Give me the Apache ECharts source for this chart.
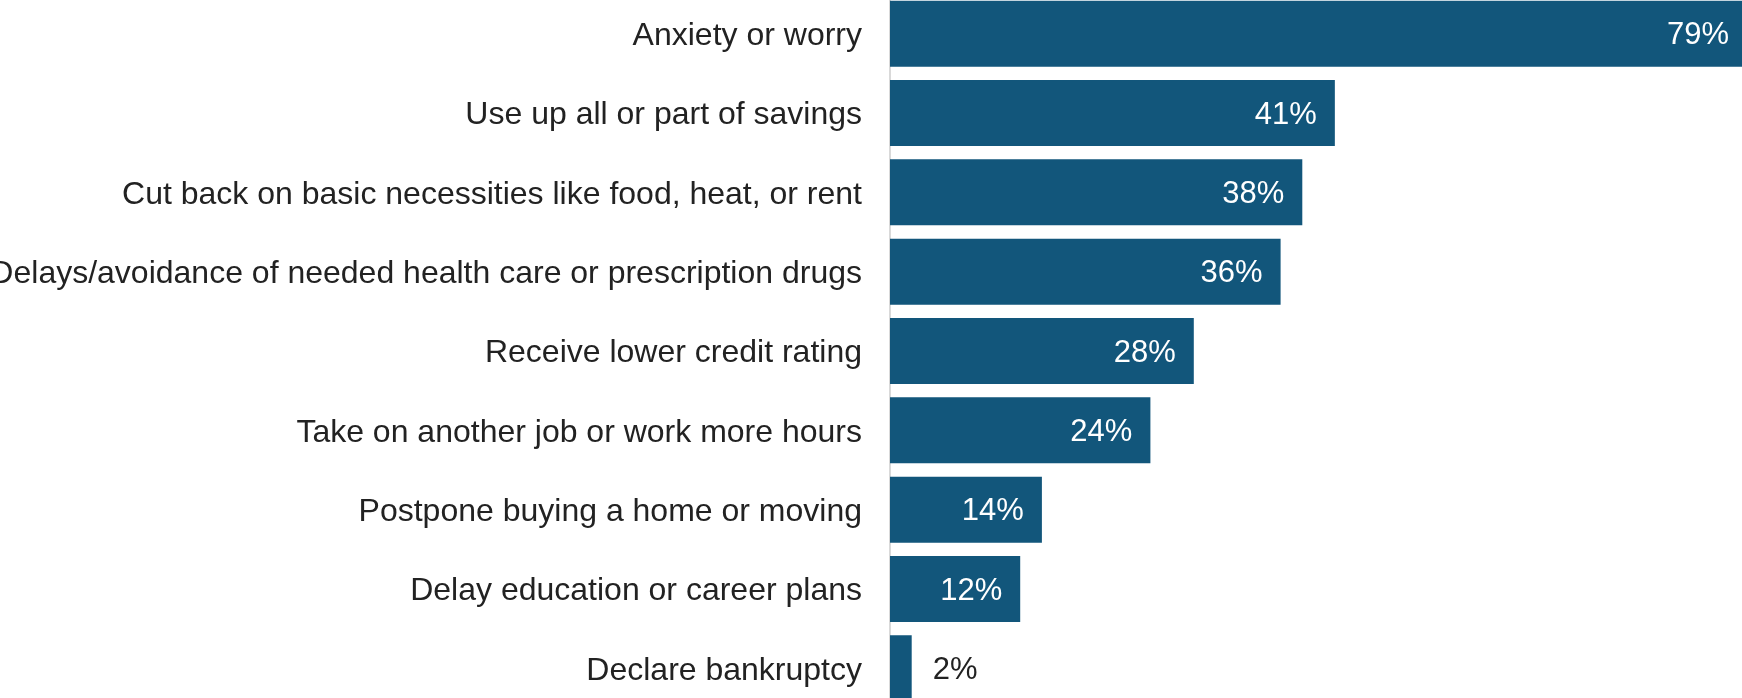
<!DOCTYPE html>
<html>
<head>
<meta charset="utf-8">
<script src="https://cdn.jsdelivr.net/npm/echarts@6/dist/echarts.min.js"></script>
<style>
  html, body { margin: 0; padding: 0; background: #ffffff; }
  #chart { width: 1742px; height: 698px; }
</style>
</head>
<body>
<div id="chart"></div>
<script>
// Financial consequences reported, share of respondents (%)
const categories = [
  'Anxiety or worry',
  'Use up all or part of savings',
  'Cut back on basic necessities like food, heat, or rent',
  'Delays/avoidance of needed health care or prescription drugs',
  'Receive lower credit rating',
  'Take on another job or work more hours',
  'Postpone buying a home or moving',
  'Delay education or career plans',
  'Declare bankruptcy'
];
const values = [79, 41, 38, 36, 28, 24, 14, 12, 2];

const BAR_COLOR = '#12567b';
const TEXT_COLOR = '#222222';
const FONT = '"Liberation Sans", Arial, sans-serif';

// Short bars get their label outside, in dark text
const SMALL = 5;

const chart = echarts.init(document.getElementById('chart'), null, { renderer: 'canvas' });

chart.setOption({
  animation: false,
  backgroundColor: '#ffffff',
  grid: {
    left: 890, right: -16, top: -6, bottom: -10,
    containLabel: false,
    outerBoundsMode: 'none'
  },
  xAxis: {
    type: 'value',
    min: 0,
    max: 80,
    show: false
  },
  yAxis: {
    type: 'category',
    inverse: true,
    data: categories,
    axisLine: { show: true, lineStyle: { color: '#d9d9d9', width: 2 } },
    axisTick: { show: false },
    splitLine: { show: false },
    axisLabel: {
      margin: 28,
      color: TEXT_COLOR,
      fontFamily: FONT,
      fontSize: 32,
      formatter: v => '{c|' + v + '}',
      rich: {
        c: {
          color: TEXT_COLOR,
          fontFamily: FONT,
          fontSize: 32,
          padding: [5, 0, 0, 0]
        }
      }
    }
  },
  series: [{
    type: 'bar',
    barCategoryGap: '16.8%',
    clip: false,
    data: values.map(v => ({
      value: v,
      label: v < SMALL
        ? { position: 'right', distance: 21, color: TEXT_COLOR }
        : { position: 'insideRight', distance: 18, color: '#ffffff' }
    })),
    itemStyle: { color: BAR_COLOR },
    label: {
      show: true,
      fontFamily: FONT,
      fontSize: 31,
      offset: [0, 2],
      formatter: p => p.value + '%'
    }
  }]
});
</script>
</body>
</html>
